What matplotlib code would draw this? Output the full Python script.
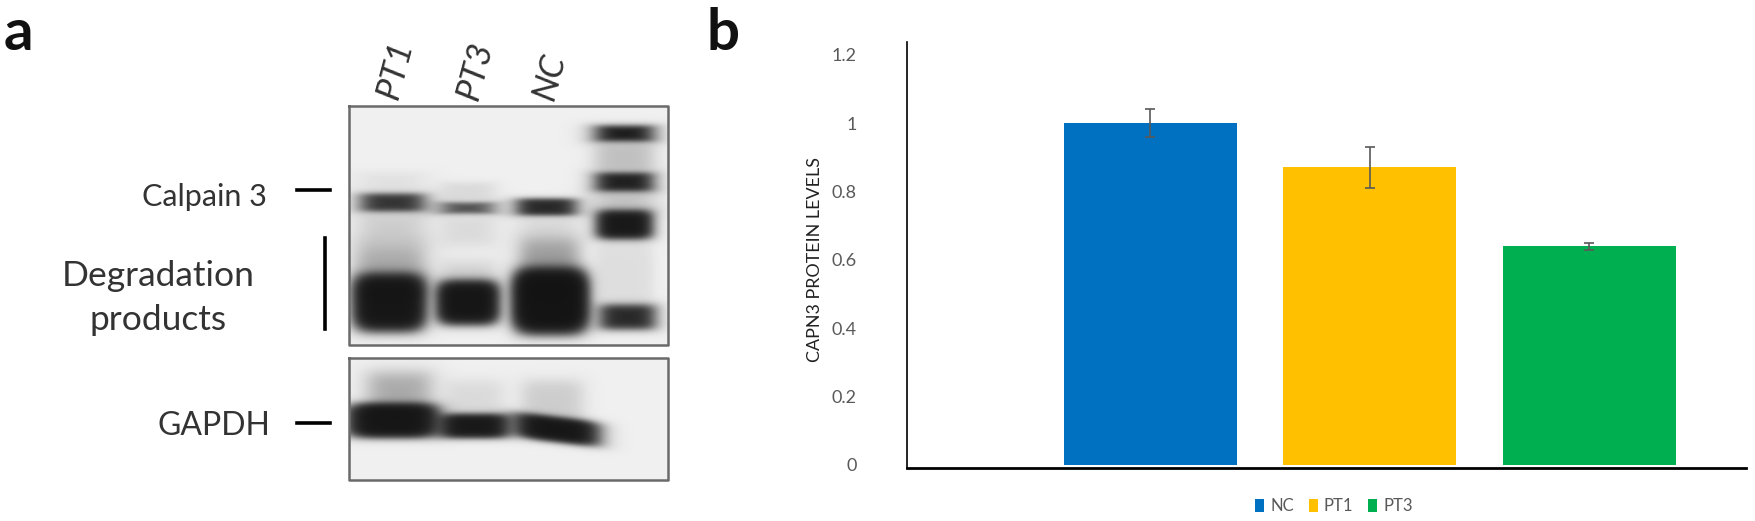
# -*- coding: utf-8 -*-
import numpy as np
import matplotlib
matplotlib.use('Agg')
import matplotlib.pyplot as plt

plt.rcParams['font.family'] = ['Lato', 'DejaVu Sans']

# panel b values
groups = ['NC', 'PT1', 'PT3']
levels = [1.0, 0.87, 0.64]
errors = [0.04, 0.06, 0.01]
colors = ['#0070C0', '#FFC000', '#00B050']
y_ticks = [0, 0.2, 0.4, 0.6, 0.8, 1.0, 1.2]
y_labels = ['0', '0.2', '0.4', '0.6', '0.8', '1', '1.2']

# panel a bands: x0, x1, y0, y1, darkness, softness, slant
top_bands = [
    (360, 424, 193, 211, 0.85, 3.5, 0),    # calpain 3 PT1
    (441, 493, 202, 213, 0.72, 3, 0),      # calpain 3 PT3
    (516, 576, 198, 215, 0.90, 3, 0),      # calpain 3 NC
    (351, 427, 272, 332, 0.98, 6, 0),      # degradation PT1
    (435, 500, 279, 325, 0.98, 5, 0),      # degradation PT3
    (510, 590, 266, 335, 0.99, 6, 0),      # degradation NC
    (356, 424, 245, 300, 0.32, 10, 0),     # smear above the degradation bands
    (442, 494, 262, 300, 0.15, 9, 0),
    (520, 578, 240, 295, 0.38, 10, 0),
    (358, 424, 212, 245, 0.16, 8, 0),
    (442, 494, 215, 245, 0.10, 8, 0),
    (520, 576, 215, 245, 0.10, 8, 0),
    (358, 424, 172, 192, 0.07, 6, 0),
    (442, 494, 182, 200, 0.10, 4, 0),
    (595, 653, 125, 141, 0.96, 3.5, 0),    # ladder
    (595, 653, 172, 191, 0.94, 3.5, 0),
    (595, 653, 209, 239, 0.97, 4, 0),
    (599, 655, 304, 329, 0.90, 4.5, 0),
    (595, 653, 142, 172, 0.22, 6, 0),
    (595, 653, 190, 212, 0.20, 6, 0),
    (596, 653, 240, 305, 0.08, 8, 0),
]
bottom_bands = [
    (345, 440, 402, 438, 0.98, 4, 0),      # gapdh PT1
    (438, 510, 413, 438, 0.97, 3.5, 0),    # gapdh PT3
    (513, 600, 416, 442, 0.98, 3.5, 0.12), # gapdh NC
    (368, 430, 372, 414, 0.32, 9, 0),
    (446, 502, 380, 420, 0.10, 8, 0),
    (522, 582, 380, 424, 0.16, 8, 0),
]
top_box = (349, 668, 106, 345)
bottom_box = (349, 668, 358, 480)


def blobShape(xx, yy, x0, x1, y0, y1, soft, slant):
    # rounded blot shape, soft at its border
    xc = (x0 + x1) / 2
    yc = (y0 + y1) / 2
    a = (x1 - x0) / 2
    b = (y1 - y0) / 2
    dx = (xx - xc) / a
    dy = (yy - yc - slant * (xx - xc)) / b
    r = (np.abs(dx) ** 4 + np.abs(dy) ** 4) ** 0.25
    return 0.5 * (1 - np.tanh((r - 1) * b / soft))


def blotImage(box, bands, base):
    xs = np.arange(box[0], box[1])
    ys = np.arange(box[2], box[3])
    xx, yy = np.meshgrid(xs, ys)
    light = np.full(xx.shape, base)
    for x0, x1, y0, y1, dark, soft, slant in bands:
        light = light * (1 - dark * blobShape(xx, yy, x0, x1, y0, y1, soft, slant))
    return light + 0.07


fig = plt.figure(figsize=(17.55, 5.21), dpi=100)

# whole figure overlay in pixels, for the blot panel
over = fig.add_axes([0, 0, 1, 1])
over.axis('off')

for box, bands in [(top_box, top_bands), (bottom_box, bottom_bands)]:
    over.imshow(blotImage(box, bands, 0.87), cmap='gray', vmin=0, vmax=1, aspect='auto',
                extent=[box[0], box[1], box[3], box[2]], interpolation='bilinear')
    over.plot([box[0], box[1], box[1], box[0], box[0]],
              [box[2], box[2], box[3], box[3], box[2]], color='#6a6a6a', linewidth=1.8)
over.set_xlim(0, 1755)
over.set_ylim(521, 0)

over.text(4, 50, 'a', fontsize=42, fontweight='bold', color='#111111', ha='left', va='baseline')
over.text(707, 50, 'b', fontsize=42, fontweight='bold', color='#111111', ha='left', va='baseline')

text_color = '#333333'
over.text(204, 197, 'Calpain 3', fontsize=22, color=text_color, ha='center', va='center')
over.text(158, 276, 'Degradation', fontsize=25.5, color=text_color, ha='center', va='center')
over.text(158, 320, 'products', fontsize=25.5, color=text_color, ha='center', va='center')
over.text(214, 426, 'GAPDH', fontsize=23, color=text_color, ha='center', va='center')

for name, x, y in [('PT1', 395, 70), ('PT3', 475, 71), ('NC', 550, 77)]:
    over.text(x, y, name, fontsize=25, style='italic', color=text_color,
              rotation=75, ha='center', va='center')

over.plot([297, 330], [190, 190], color='black', linewidth=2.6)
over.plot([297, 330], [423, 423], color='black', linewidth=2.6)
over.plot([325, 325], [238, 329], color='black', linewidth=2.6)

# bar chart
ax = fig.add_axes([907 / 1755, (521 - 468) / 521, (1746 - 907) / 1755, (468 - 42) / 521])
pos = np.arange(len(groups))
for i in range(len(groups)):
    ax.bar(pos[i], levels[i], width=0.788, color=colors[i], label=groups[i])
    ax.errorbar(pos[i], levels[i], yerr=errors[i], color='#595959', linewidth=1.2,
                capsize=3.4, capthick=1.2)

ax.set_xlim(-1.109, 2.713)
ax.set_ylim(-0.0088, 1.237)
ax.set_xticks([])
ax.set_yticks(y_ticks)
ax.set_yticklabels(y_labels, fontsize=13, color='#595959')
ax.tick_params(axis='y', length=0, pad=36)
ax.spines['top'].set_visible(False)
ax.spines['right'].set_visible(False)
ax.spines['left'].set_linewidth(1.2)
ax.spines['bottom'].set_linewidth(2.0)
ax.set_ylabel('CAPN3 PROTEIN LEVELS', fontsize=12.9, color='#222222')
ax.yaxis.set_label_coords((823 - 907) / 839, (468 - 260) / 426)

ax.legend(loc='center', bbox_to_anchor=(427 / 839, -0.09), ncol=3, frameon=False,
          fontsize=12, handlelength=0.55, handleheight=0.75, handletextpad=0.35,
          columnspacing=0.9, labelcolor='#595959')

fig.savefig('out.png', dpi=100)
